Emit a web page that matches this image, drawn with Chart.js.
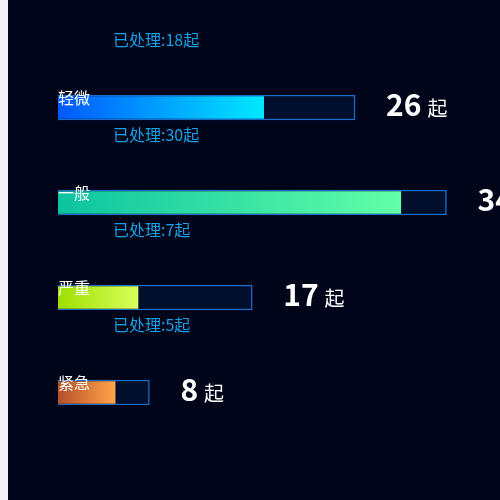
<!DOCTYPE html>
<html>
<head>
<meta charset="utf-8">
<script src="https://cdn.jsdelivr.net/npm/chart.js@4"></script>
<style>
html,body{margin:0;padding:0;width:500px;height:500px;overflow:hidden;background:#f0f2f7;}
#wrap{position:absolute;left:8px;top:0;width:492px;height:500px;overflow:hidden;background:#00051a;}
#wrap canvas{position:absolute;left:0;top:0;}
</style>
</head>
<body>
<div id="wrap"><canvas id="c" width="560" height="500" style="width:560px;height:500px"></canvas></div>
<script>
const categories = ['轻微', '一般', '严重', '紧急'];
const totals = [26, 34, 17, 8];
const processed = [18, 30, 7, 5];
const unitLabel = '起';
const processedPrefix = '已处理:';
const gradStart = ['#0058ff', '#0cc3a0', '#9ddf00', '#b3502a'];
const gradEnd = ['#00e8ff', '#62ffa8', '#d9ff5c', '#ffa44b'];

const fontCJK = '"Noto Sans CJK SC", "Noto Sans", sans-serif';

function gradientFor(ctx) {
  const chart = ctx.chart;
  const area = chart.chartArea;
  if (!area) return gradStart[0];
  const i = ctx.dataIndex;
  const xs = chart.scales.x;
  const x0 = xs.getPixelForValue(0);
  const x1 = xs.getPixelForValue(processed[i]);
  const g = chart.ctx.createLinearGradient(x0, 0, x1, 0);
  g.addColorStop(0, gradStart[i]);
  g.addColorStop(1, gradEnd[i]);
  return g;
}

const labelPlugin = {
  id: 'labels',
  afterDatasetsDraw(chart) {
    const ctx = chart.ctx;
    const xs = chart.scales.x, ys = chart.scales.y;
    const left = xs.getPixelForValue(0);
    ctx.save();
    categories.forEach((name, i) => {
      const y = ys.getPixelForValue(i);
      // category name
      ctx.font = '16px ' + fontCJK;
      ctx.fillStyle = '#ffffff';
      ctx.textAlign = 'left';
      ctx.textBaseline = 'middle';
      ctx.fillText(name, left, y - 9.5);
      // processed label
      ctx.font = '16px ' + fontCJK;
      ctx.fillStyle = '#13a2e8';
      ctx.fillText(processedPrefix + processed[i] + unitLabel, left + 55, y - 67.5);
      // value label
      const xe = xs.getPixelForValue(totals[i]) + 31;
      ctx.textBaseline = 'alphabetic';
      ctx.font = 'bold 30px ' + fontCJK;
      ctx.fillStyle = '#ffffff';
      const t = String(totals[i]);
      ctx.fillText(t, xe, y + 8);
      const w = ctx.measureText(t).width;
      ctx.font = '20px ' + fontCJK;
      ctx.fillText(unitLabel, xe + w + 6, y + 8);
    });
    ctx.restore();
  }
};

new Chart(document.getElementById('c'), {
  type: 'bar',
  data: {
    labels: categories,
    datasets: [
      {
        label: 'processed',
        data: processed,
        backgroundColor: gradientFor,
        borderWidth: 0,
        barThickness: 22,
        grouped: false,
        order: 0
      },
      {
        label: 'total',
        data: totals,
        backgroundColor: '#020f2c',
        borderColor: '#1a6cc6',
        borderWidth: 1.5,
        barThickness: 25,
        grouped: false,
        order: 1
      }
    ]
  },
  options: {
    indexAxis: 'y',
    responsive: false,
    animation: false,
    maintainAspectRatio: false,
    layout: { padding: { left: 50, right: 53, top: 60, bottom: 60 } },
    scales: {
      x: { display: false, min: 0, max: 40 },
      y: { display: false }
    },
    plugins: {
      legend: { display: false },
      tooltip: { enabled: false }
    }
  },
  plugins: [labelPlugin]
});
</script>
</body>
</html>
